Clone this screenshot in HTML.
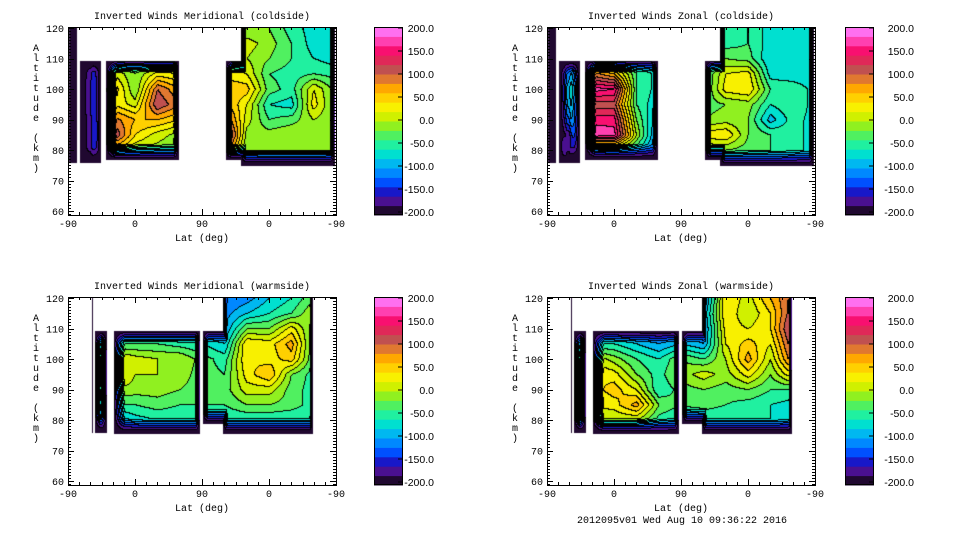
<!DOCTYPE html>
<html><head><meta charset="utf-8">
<style>
html,body{margin:0;padding:0;background:#fff;}
#root{position:relative;width:960px;height:540px;overflow:hidden;background:#fff;}
canvas{position:absolute;}
svg{position:absolute;left:0;top:0;}
text{font-family:"Liberation Mono",monospace;font-size:10px;fill:#000;}
text.cbl{font-family:"Liberation Sans",sans-serif;font-size:10.5px;}
</style></head>
<body>
<div id="root">
<canvas id="c1" width="268" height="188" style="left:68px;top:27px"></canvas>
<canvas id="c2" width="268" height="188" style="left:547px;top:27px"></canvas>
<canvas id="c3" width="268" height="188" style="left:68px;top:297px"></canvas>
<canvas id="c4" width="268" height="188" style="left:547px;top:297px"></canvas>
<svg id="ov" width="960" height="540"></svg>
</div>
<script>
// data grids: rows alt 75..120 step 5, columns orbit-units 0..360 step 30 (-90,0,90,0,-90)
const xCols=[0,30,60,90,120,150,180,210,240,270,300,330,360];
const altRows=[75,80,85,90,95,100,105,110,115,120];
const merCold=[
[-200,-170,-100,-80,-80,-100,-100,-120,-150,-150,-150,-150,-150],
[-200,-170,40,0,-10,-20,-100,100,-20,-10,-10,-10,-20],
[-200,-170,130,40,10,-10,-100,170,-10,-10,0,-5,-20],
[-200,-170,90,60,60,40,-100,110,10,-40,-30,0,-20],
[-200,-160,40,10,120,80,-100,70,20,-60,-70,30,-30],
[-200,-160,60,-20,100,60,-100,60,50,-30,-50,20,-30],
[-200,-170,20,-20,30,20,-100,30,20,-40,-50,-40,-50],
[-200,-170,-50,-50,-50,-50,-100,0,0,-20,-40,-60,-70],
[-200,-170,-100,-100,-100,-100,-100,-20,10,-10,-40,-70,-70],
[-200,-170,-100,-100,-100,-100,-100,-60,-20,-20,-50,-70,-80]];
const zonCold=[
[-200,-170,-150,-150,-150,-150,-150,-120,-100,-100,-100,-100,-100],
[-200,-170,-40,-20,-60,-120,-100,-20,-20,-30,-40,-50,-70],
[-200,-170,180,170,0,-120,-100,30,40,-20,-40,-50,-70],
[-200,-120,150,150,-20,-100,-100,-20,-10,-20,-90,-50,-70],
[-200,-90,110,110,-40,-80,-100,-30,-20,-10,-60,-40,-70],
[-200,-80,170,160,-40,-70,-100,-50,30,40,-40,-40,-70],
[-200,-110,90,60,-40,-70,-100,-50,20,30,-70,-80,-80],
[-200,-150,-50,-50,-60,-90,-100,-60,-20,-30,-80,-80,-80],
[-200,-150,-100,-100,-100,-100,-100,-60,-50,-40,-70,-70,-80],
[-200,-150,-100,-100,-100,-100,-100,-80,-50,-40,-70,-80,-80]];
const merWarm=[
[-200,-150,-150,-150,-150,-150,-150,-150,-150,-150,-150,-150,-150],
[-200,-100,-100,-70,-60,-60,-60,-60,-60,-60,-60,-60,-60],
[-200,-80,-40,-40,-30,-40,-40,-40,-20,-20,-30,-50,-50],
[-200,-70,0,-10,-10,-20,-30,-30,10,10,-30,-50,-50],
[-200,-70,40,0,0,-10,-30,-40,30,60,-20,-50,-50],
[-200,-70,30,10,0,0,-30,-50,40,30,50,-40,-50],
[-200,-90,-40,-40,-40,-50,-60,-80,40,30,70,-40,-50],
[-200,-150,-120,-120,-120,-120,-100,-100,-20,-20,30,-30,-40],
[-200,-150,-150,-150,-150,-150,-120,-110,-80,-60,-40,0,-20],
[-200,-150,-150,-150,-150,-150,-120,-120,-110,-80,-60,-20,-20]];
const zonWarm=[
[-200,-150,-150,-150,-150,-150,-150,-150,-150,-150,-150,-150,-150],
[-200,-100,0,0,0,-50,-70,-60,-60,-60,-60,-80,-80],
[-200,-80,20,30,70,-20,-40,-30,-40,-50,-60,-70,-70],
[-200,-70,30,50,20,-60,-30,-20,-30,-20,-40,-40,-40],
[-200,-70,40,30,-20,-50,-10,10,-10,30,-20,40,40],
[-200,-70,20,-10,-40,-60,-20,-40,0,70,0,100,100],
[-200,-90,-60,-60,-80,-100,-80,-100,20,50,20,120,120],
[-200,-150,-130,-130,-130,-140,-120,-110,30,20,40,140,140],
[-200,-150,-150,-150,-150,-150,-150,-100,40,0,40,120,120],
[-200,-150,-150,-150,-150,-150,-150,-120,40,10,60,110,110]];
const cbTicks=["200.0","150.0","100.0","50.0","0.0","-50.0","-100.0","-150.0","-200.0"];
const yTicks=[60,70,80,90,100,110,120];
const xTickLabels=["-90","0","90","0","-90"];

const colors=["#200830","#4a1090","#1818c8","#0050ff","#0088ff","#00b8f0","#00e0d0","#20f0a0","#50f060","#90f020",
"#d0f000","#f8f000","#ffd000","#ffa800","#e07830","#c05050","#e02858","#f81070","#ff40b0","#ff70f0"];

// data-coverage regions [x0,x1,a0,a1,tapL,tapR,tapB,tapT,const]
const regCold=[[1,12,76,121,0,0,0,0,-200],[16,43,76,109.5,11,11,5,4,null],[51,148,77,109.5,14,6,5,4,null],[212,240,77,109.5,8,0,5,4,null],[232,358,75,121,7,6,5,0,null]];
const regCold2=regCold.concat([[17,30,76.5,86,6,6,3,3,-160]]);
const regWarm=[[31,33,76,121,0,0,0,0,-200],[36,52,76,109.5,8,8,5,4,null],[61,177,75.5,109.5,15,6,5,4,null],[181,215,79,109.5,7,0,5,4,null],[207,328,75.5,121,7,3,5,0,null]];

function sample(g,x,a){
  let fx=Math.max(0,Math.min(11.999,x/30)), fa=Math.max(0,Math.min(8.999,(a-75)/5));
  let i=Math.floor(fx), j=Math.floor(fa), u=fx-i, v=fa-j;
  return (g[j][i]*(1-u)+g[j][i+1]*u)*(1-v)+(g[j+1][i]*(1-u)+g[j+1][i+1]*u)*v;
}
function sm(t){return Math.max(0,Math.min(1,t));}
function draw(id,g,regs){
  const cv=document.getElementById(id),ctx=cv.getContext('2d');
  const W=268,H=188,img=ctx.createImageData(W,H),band=new Int16Array(W*H).fill(-1);
  for(let py=0;py<H;py++)for(let px=0;px<W;px++){
    const x=px/W*360, a=120.33-py/3.05; let best=null;
    for(const r of regs){
      if(x<r[0]||x>r[1]||a<r[2]||a>r[3])continue;
      let tx=1,ty=1;
      if(r[4])tx=Math.min(tx,(x-r[0])/r[4]);
      if(r[5])tx=Math.min(tx,(r[1]-x)/r[5]);
      if(r[6])ty=Math.min(ty,(a-r[2])/r[6]);
      if(r[7])ty=Math.min(ty,(r[3]-a)/r[7]);
      const base=r[8]!==null?r[8]:sample(g,x,a);
      const v=-200+(base+200)*sm(tx)*sm(ty);
      if(best===null||v>best)best=v;
    }
    if(best!==null)band[py*W+px]=Math.max(0,Math.min(19,Math.floor((best+200)/20)));
  }
  for(let py=0;py<H;py++)for(let px=0;px<W;px++){
    const k=py*W+px,b=band[k],o=k*4;
    let c=[255,255,255];
    if(b>=0){
      const h=colors[b];c=[parseInt(h.substr(1,2),16),parseInt(h.substr(3,2),16),parseInt(h.substr(5,2),16)];
      const r=px<W-1?band[k+1]:b, d=py<H-1?band[k+W]:b;
      if((r>=0&&r!==b)||(d>=0&&d!==b))c=[0,0,0];
    }
    img.data[o]=c[0];img.data[o+1]=c[1];img.data[o+2]=c[2];img.data[o+3]=255;
  }
  ctx.putImageData(img,0,0);
}
draw('c1',merCold,regCold);
draw('c2',zonCold,regCold2);
draw('c3',merWarm,regWarm);
draw('c4',zonWarm,regWarm);

const NS="http://www.w3.org/2000/svg",ov=document.getElementById('ov');
function mk(tag,attrs,parent){const e=document.createElementNS(NS,tag);for(const k in attrs)e.setAttribute(k,attrs[k]);(parent||ov).appendChild(e);return e;}
const panels=[
 {x:68,y:27,title:"Inverted Winds Meridional (coldside)",cb:374,lab:434,n:"meridional-coldside"},
 {x:547,y:27,title:"Inverted Winds Zonal (coldside)",cb:845,lab:914,n:"zonal-coldside"},
 {x:68,y:297,title:"Inverted Winds Meridional (warmside)",cb:374,lab:434,n:"meridional-warmside"},
 {x:547,y:297,title:"Inverted Winds Zonal (warmside)",cb:845,lab:914,n:"zonal-warmside"}];
const W=268,H=188;
function yPix(p,a){return p.y+1+(120-a)*3.05;}
function xPix(p,u){return p.x+u/360*W;}
panels.forEach(p=>{
  const g=mk('g',{});
  
  
  const t=mk('text',{x:p.x+W/2,y:p.y-8,'text-anchor':'middle'},g);t.textContent=p.title;
  
  
  const fr=mk('rect',{x:p.x+0.5,y:p.y+0.5,width:W,height:H,fill:'none',stroke:'#000','stroke-width':1},g);
  
  
  for(let a=59;a<=120;a++){
    const y=Math.round(yPix(p,a))+0.5, L=a%10===0?6:3;
    mk('line',{x1:p.x,x2:p.x+L,y1:y,y2:y,stroke:'#000'},g);
    mk('line',{x1:p.x+W-L,x2:p.x+W,y1:y,y2:y,stroke:'#000'},g);
  }
  yTicks.forEach(a=>{const e=mk('text',{x:p.x-4,y:yPix(p,a)+4,'text-anchor':'end'},g);e.textContent=a;
    
    });
  for(let u=0;u<=360;u+=15){
    const x=Math.round(xPix(p,u))+0.5,L=u%90===0?6:3;
    mk('line',{x1:x,x2:x,y1:p.y+H,y2:p.y+H-L,stroke:'#000'},g);
    mk('line',{x1:x,x2:x,y1:p.y,y2:p.y+L,stroke:'#000'},g);
  }
  xTickLabels.forEach((s,i)=>{const e=mk('text',{x:xPix(p,i*90),y:p.y+H+12,'text-anchor':'middle'},g);e.textContent=s;
    
    });
  const xl=mk('text',{x:p.x+W/2,y:p.y+H+26,'text-anchor':'middle'},g);xl.textContent="Lat (deg)";
  
  
  const yl=mk('text',{x:36,y:0,'text-anchor':'middle'},g);
  
  
  "Altitude (km)".split('').forEach((ch,i)=>{const s=mk('tspan',{x:p.x-32,y:p.y+24+i*10},yl);s.textContent=ch===' '?'\u00a0':ch;});
  const cbg=mk('g',{},g);
  
  
  const bh=H/20;
  colors.forEach((c,i)=>{const r=mk('rect',{x:p.cb,y:p.y+H-(i+1)*bh,width:29,height:bh+0.5,fill:c},cbg);
    
    });
  mk('rect',{x:p.cb+0.5,y:p.y+0.5,width:28,height:H-1,fill:'none',stroke:'#000'},cbg);
  cbTicks.forEach((s,i)=>{const y=p.y+1+i*(H-4)/8;
    mk('line',{x1:p.cb+24,x2:p.cb+29,y1:y,y2:y,stroke:'#000'},cbg);
    const e=mk('text',{x:p.lab,y:y+4,'text-anchor':'end','class':'cbl'},cbg);e.textContent=s;
    
    });
});
const ft=mk('text',{x:682,y:523,'text-anchor':'middle'});ft.textContent="2012095v01 Wed Aug 10 09:36:22 2016";


</script>
</body></html>
